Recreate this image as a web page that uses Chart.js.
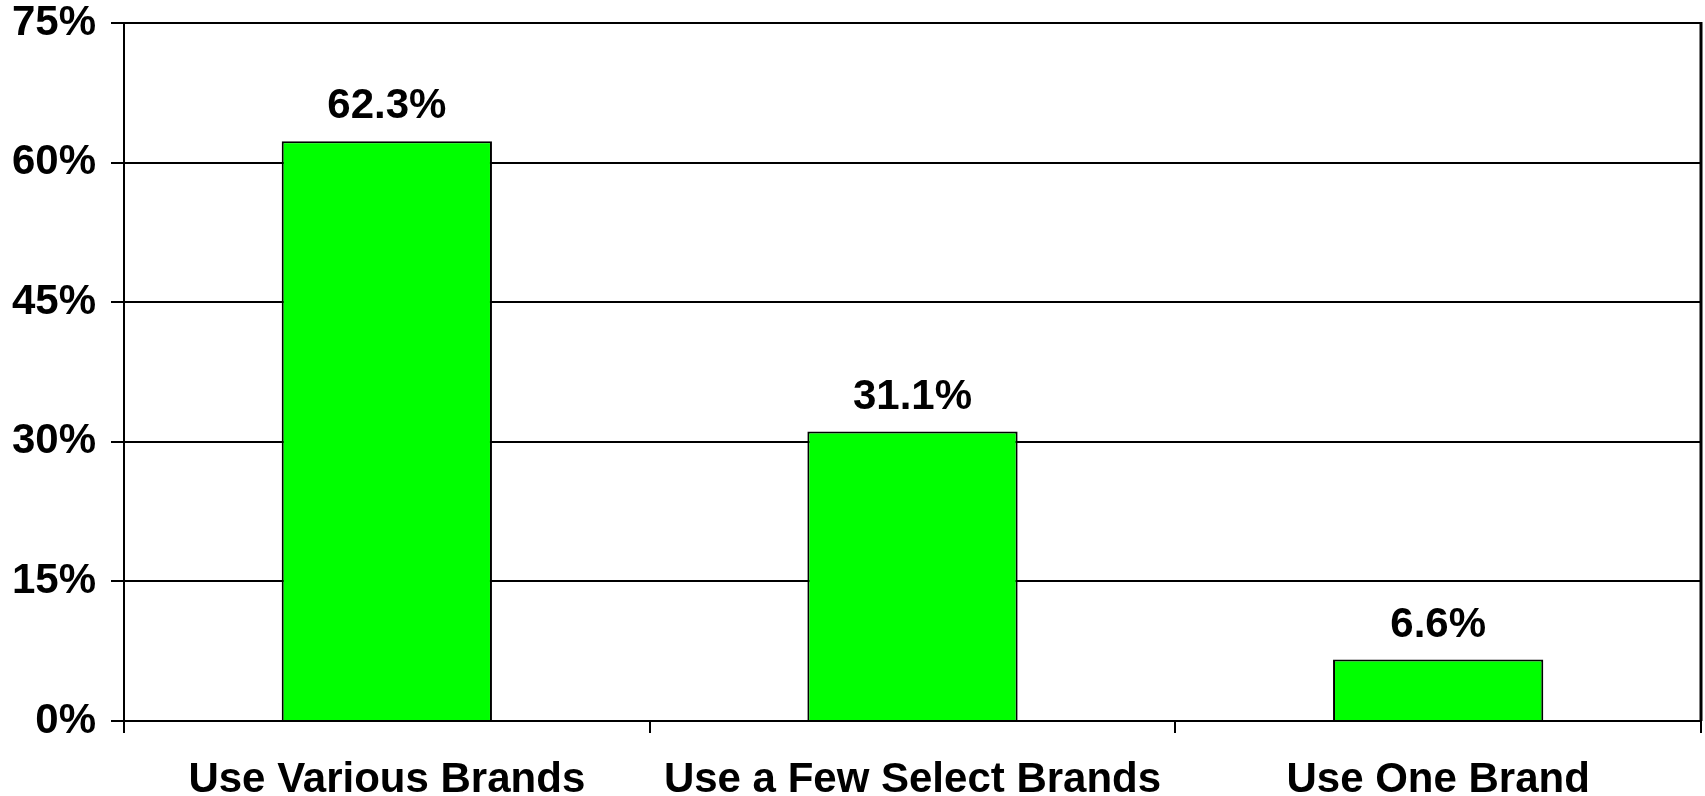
<!DOCTYPE html>
<html>
<head>
<meta charset="utf-8">
<script src="https://cdn.jsdelivr.net/npm/chart.js@4/dist/chart.umd.min.js"></script>
<style>
  body { margin: 0; background: #fff; }
  canvas { display: block; }
</style>
</head>
<body>
<canvas id="brandChart" width="1705" height="796"></canvas>
<script>
const categories = ['Use Various Brands', 'Use a Few Select Brands', 'Use One Brand'];
const shares = [62.3, 31.1, 6.6];
const yTicks = [0, 15, 30, 45, 60, 75];

const FONT = "'Liberation Sans', Arial, sans-serif";

// value labels over each bar
const barLabels = {
  id: 'barLabels',
  afterDatasetsDraw(chart) {
    const ctx = chart.ctx;
    const meta = chart.getDatasetMeta(0);
    ctx.save();
    ctx.font = 'bold 42px ' + FONT;
    ctx.fillStyle = '#000';
    ctx.textAlign = 'center';
    ctx.textBaseline = 'alphabetic';
    meta.data.forEach((bar, i) => {
      ctx.fillText(shares[i].toFixed(1) + '%', bar.x, bar.y - 23);
    });
    ctx.restore();
  }
};

// right side frame line
const rightFrame = {
  id: 'rightFrame',
  afterDraw(chart) {
    const a = chart.chartArea;
    const ctx = chart.ctx;
    ctx.save();
    ctx.strokeStyle = '#000';
    ctx.lineWidth = 3;
    ctx.beginPath();
    ctx.moveTo(a.right, a.top - 1);
    ctx.lineTo(a.right, a.bottom);
    ctx.stroke();
    ctx.restore();
  }
};

new Chart(document.getElementById('brandChart'), {
  type: 'bar',
  data: {
    labels: categories,
    datasets: [{
      data: shares,
      backgroundColor: '#00ff00',
      borderColor: '#000',
      borderWidth: 2,
      barPercentage: 0.4,
      categoryPercentage: 1.0
    }]
  },
  options: {
    responsive: false,
    animation: false,
    layout: { padding: { top: 23, right: 4, left: 0, bottom: 0 } },
    plugins: {
      legend: { display: false },
      tooltip: { enabled: false }
    },
    scales: {
      x: {
        grid: {
          offset: true,
          drawOnChartArea: false,
          drawTicks: true,
          tickLength: 12,
          color: '#000',
          lineWidth: 2
        },
        border: { color: '#000', width: 2 },
        ticks: {
          color: '#000',
          padding: 22,
          font: { family: FONT, size: 42, weight: 'bold' }
        },
        afterFit(scale) { scale.height = 75; }
      },
      y: {
        min: 0,
        max: 75,
        afterBuildTicks(scale) { scale.ticks = yTicks.map(v => ({ value: v })); },
        grid: {
          color: '#000',
          lineWidth: 2,
          tickLength: 13
        },
        border: { color: '#000', width: 2 },
        ticks: {
          color: '#000',
          padding: 15,
          font: { family: FONT, size: 42, weight: 'bold' },
          callback: v => v + '%'
        },
        afterFit(scale) {
          scale.width = 124;
          scale.paddingTop = 0;
          scale.paddingBottom = 0;
        }
      }
    }
  },
  plugins: [barLabels, rightFrame]
});
</script>
</body>
</html>
